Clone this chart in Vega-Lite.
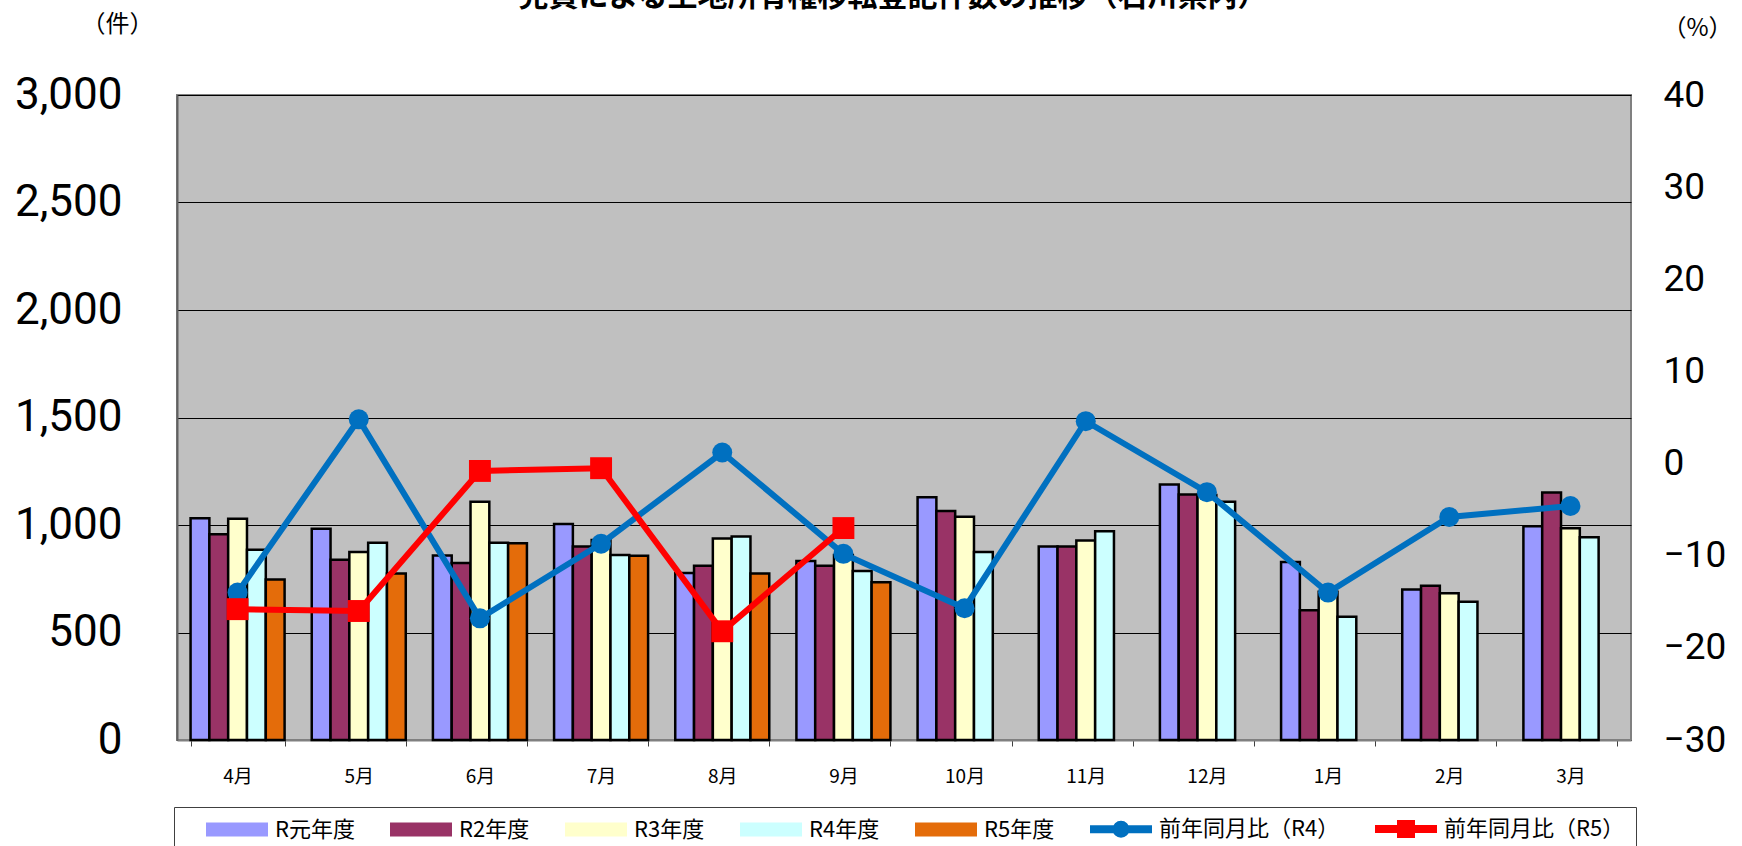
{
  "$schema": "https://vega.github.io/schema/vega-lite/v6.json",
  "autosize": {"type": "none"},
  "padding": {"left": 177, "top": 95, "right": 111, "bottom": 106},
  "width": 1454,
  "height": 645,
  "background": "white",
  "title": {
    "text": "売買による土地所有権移転登記件数の推移（石川県内）",
    "fontSize": 30,
    "font": "Noto Sans CJK JP",
    "fontWeight": "bold",
    "color": "black",
    "anchor": "middle",
    "frame": "group",
    "dx": -11,
    "offset": 0
  },
  "datasets": {
    "bars": [
      {"month": "4月", "series": "R元年度", "value": 1031},
      {"month": "4月", "series": "R2年度", "value": 957},
      {"month": "4月", "series": "R3年度", "value": 1029},
      {"month": "4月", "series": "R4年度", "value": 885},
      {"month": "4月", "series": "R5年度", "value": 746},
      {"month": "5月", "series": "R元年度", "value": 983},
      {"month": "5月", "series": "R2年度", "value": 838},
      {"month": "5月", "series": "R3年度", "value": 875},
      {"month": "5月", "series": "R4年度", "value": 918},
      {"month": "5月", "series": "R5年度", "value": 774},
      {"month": "6月", "series": "R元年度", "value": 858},
      {"month": "6月", "series": "R2年度", "value": 823},
      {"month": "6月", "series": "R3年度", "value": 1108},
      {"month": "6月", "series": "R4年度", "value": 918},
      {"month": "6月", "series": "R5年度", "value": 915},
      {"month": "7月", "series": "R元年度", "value": 1005},
      {"month": "7月", "series": "R2年度", "value": 900},
      {"month": "7月", "series": "R3年度", "value": 930},
      {"month": "7月", "series": "R4年度", "value": 860},
      {"month": "7月", "series": "R5年度", "value": 857},
      {"month": "8月", "series": "R元年度", "value": 777},
      {"month": "8月", "series": "R2年度", "value": 811},
      {"month": "8月", "series": "R3年度", "value": 937},
      {"month": "8月", "series": "R4年度", "value": 946},
      {"month": "8月", "series": "R5年度", "value": 774},
      {"month": "9月", "series": "R元年度", "value": 832},
      {"month": "9月", "series": "R2年度", "value": 811},
      {"month": "9月", "series": "R3年度", "value": 860},
      {"month": "9月", "series": "R4年度", "value": 786},
      {"month": "9月", "series": "R5年度", "value": 734},
      {"month": "10月", "series": "R元年度", "value": 1129},
      {"month": "10月", "series": "R2年度", "value": 1065},
      {"month": "10月", "series": "R3年度", "value": 1038},
      {"month": "10月", "series": "R4年度", "value": 875},
      {"month": "11月", "series": "R元年度", "value": 900},
      {"month": "11月", "series": "R2年度", "value": 900},
      {"month": "11月", "series": "R3年度", "value": 928},
      {"month": "11月", "series": "R4年度", "value": 971},
      {"month": "12月", "series": "R元年度", "value": 1188},
      {"month": "12月", "series": "R2年度", "value": 1142},
      {"month": "12月", "series": "R3年度", "value": 1140},
      {"month": "12月", "series": "R4年度", "value": 1108},
      {"month": "1月", "series": "R元年度", "value": 828},
      {"month": "1月", "series": "R2年度", "value": 604},
      {"month": "1月", "series": "R3年度", "value": 690},
      {"month": "1月", "series": "R4年度", "value": 573},
      {"month": "2月", "series": "R元年度", "value": 700},
      {"month": "2月", "series": "R2年度", "value": 717},
      {"month": "2月", "series": "R3年度", "value": 683},
      {"month": "2月", "series": "R4年度", "value": 643},
      {"month": "3月", "series": "R元年度", "value": 994},
      {"month": "3月", "series": "R2年度", "value": 1151},
      {"month": "3月", "series": "R3年度", "value": 985},
      {"month": "3月", "series": "R4年度", "value": 943}
    ],
    "r4": [
      {"month": "4月", "series": "前年同月比（R4）", "pct": -14.0},
      {"month": "5月", "series": "前年同月比（R4）", "pct": 4.8},
      {"month": "6月", "series": "前年同月比（R4）", "pct": -16.8},
      {"month": "7月", "series": "前年同月比（R4）", "pct": -8.7},
      {"month": "8月", "series": "前年同月比（R4）", "pct": 1.2},
      {"month": "9月", "series": "前年同月比（R4）", "pct": -9.8},
      {"month": "10月", "series": "前年同月比（R4）", "pct": -15.7},
      {"month": "11月", "series": "前年同月比（R4）", "pct": 4.6},
      {"month": "12月", "series": "前年同月比（R4）", "pct": -3.1},
      {"month": "1月", "series": "前年同月比（R4）", "pct": -14.0},
      {"month": "2月", "series": "前年同月比（R4）", "pct": -5.8},
      {"month": "3月", "series": "前年同月比（R4）", "pct": -4.6}
    ],
    "r5": [
      {"month": "4月", "series": "前年同月比（R5）", "pct": -15.8},
      {"month": "5月", "series": "前年同月比（R5）", "pct": -16.0},
      {"month": "6月", "series": "前年同月比（R5）", "pct": -0.8},
      {"month": "7月", "series": "前年同月比（R5）", "pct": -0.5},
      {"month": "8月", "series": "前年同月比（R5）", "pct": -18.2},
      {"month": "9月", "series": "前年同月比（R5）", "pct": -7.0}
    ]
  },
  "layer": [
    {
      "data": {"name": "bars"},
      "mark": {"type": "bar", "stroke": "black", "strokeWidth": 2.5},
      "encoding": {
        "x": {
          "field": "month", "type": "nominal",
          "sort": ["4月","5月","6月","7月","8月","9月","10月","11月","12月","1月","2月","3月"],
          "scale": {"paddingInner": 0.224, "paddingOuter": 0.112},
          "axis": {
            "title": null, "labelAngle": 0, "tickBand": "extent",
            "labelFont": "Noto Sans CJK JP", "labelFontSize": 19, "labelColor": "black",
            "labelPadding": 21, "tickSize": 6, "tickColor": "#404040",
            "domainColor": "#808080", "domainWidth": 2, "grid": false
          }
        },
        "xOffset": {
          "field": "series", "type": "nominal",
          "scale": {"domain": ["R元年度","R2年度","R3年度","R4年度","R5年度"], "paddingInner": 0, "paddingOuter": 0}
        },
        "y": {
          "field": "value", "type": "quantitative",
          "scale": {"domain": [0, 3000], "nice": false},
          "axis": {
            "orient": "left", "values": [0,500,1000,1500,2000,2500,3000], "format": ",.0f",
            "labelFont": "Roboto", "labelFontSize": 44, "labelColor": "black", "labelPadding": 55,
            "ticks": false, "grid": true, "gridColor": "black", "gridWidth": 1,
            "domainColor": "#606060", "domainWidth": 2,
            "title": "（件）", "titleAngle": 0, "titleX": -60, "titleY": -71,
            "titleFont": "Noto Sans CJK JP", "titleFontSize": 24, "titleFontWeight": "normal",
            "titleColor": "black", "titleAlign": "center", "titleBaseline": "middle"
          }
        },
        "color": {
          "field": "series", "type": "nominal",
          "scale": {
            "domain": ["R元年度","R2年度","R3年度","R4年度","R5年度","前年同月比（R4）","前年同月比（R5）"],
            "range": ["#9999FF","#993366","#FFFFCC","#CCFFFF","#E46C0A","#0070C0","#FF0000"]
          },
          "legend": {
            "title": null,
            "orient": "none",
            "direction": "horizontal",
            "legendX": -3,
            "legendY": 712,
            "padding": 11,
            "strokeColor": "#404040",
            "fillColor": "white",
            "columnPadding": 14,
            "symbolSize": 400,
            "symbolStrokeWidth": 2,
            "symbolType": {"expr": "datum.value === '前年同月比（R4）' ? 'M-3,-0.3H3V0.3H-3Z M-0.75,0A0.75,0.75 0 1,1 0.75,0A0.75,0.75 0 1,1 -0.75,0Z' : datum.value === '前年同月比（R5）' ? 'M-3,-0.3H3V0.3H-3Z M-0.8,-0.8H0.8V0.8H-0.8Z' : 'M-3,-0.6H3V0.6H-3Z'"},
            "symbolOpacity": 1,
            "symbolOffset": 41,
            "labelOffset": 27,
            "labelFont": "Noto Sans CJK JP",
            "labelFontSize": 22,
            "labelColor": "black",
            "labelLimit": 400
          }
        }
      }
    },
    {
      "layer": [
        {
          "data": {"name": "r4"},
          "mark": {"type": "line", "strokeWidth": 6, "point": {"filled": true, "size": 400, "shape": "circle", "opacity": 1}},
          "encoding": {
            "x": {"field": "month", "type": "nominal", "sort": ["4月","5月","6月","7月","8月","9月","10月","11月","12月","1月","2月","3月"]},
            "y": {
              "field": "pct", "type": "quantitative",
              "scale": {"domain": [-30, 40], "nice": false},
              "axis": {
                "orient": "right", "values": [-30,-20,-10,0,10,20,30,40],
                "labelFont": "Roboto", "labelFontSize": 37, "labelColor": "black", "labelPadding": 32,
                "ticks": false, "grid": false, "domain": false,
                "title": "（%）", "titleAngle": 0, "titleX": 66, "titleY": -67,
                "titleFont": "Noto Sans CJK JP", "titleFontSize": 24, "titleFontWeight": "normal",
                "titleColor": "black", "titleAlign": "center", "titleBaseline": "middle"
              }
            },
            "color": {"field": "series", "type": "nominal", "legend": null}
          }
        },
        {
          "data": {"name": "r5"},
          "mark": {"type": "line", "strokeWidth": 6, "point": {"filled": true, "size": 480, "shape": "square", "opacity": 1}},
          "encoding": {
            "x": {"field": "month", "type": "nominal", "sort": ["4月","5月","6月","7月","8月","9月","10月","11月","12月","1月","2月","3月"]},
            "y": {"field": "pct", "type": "quantitative"},
            "color": {"field": "series", "type": "nominal", "legend": null}
          }
        }
      ]
    }
  ],
  "resolve": {"scale": {"y": "independent"}, "axis": {"y": "independent"}},
  "config": {
    "view": {"fill": "#C0C0C0", "stroke": "#808080", "strokeWidth": 2},
    "axis": {"labelFontWeight": "normal"}
  }
}
